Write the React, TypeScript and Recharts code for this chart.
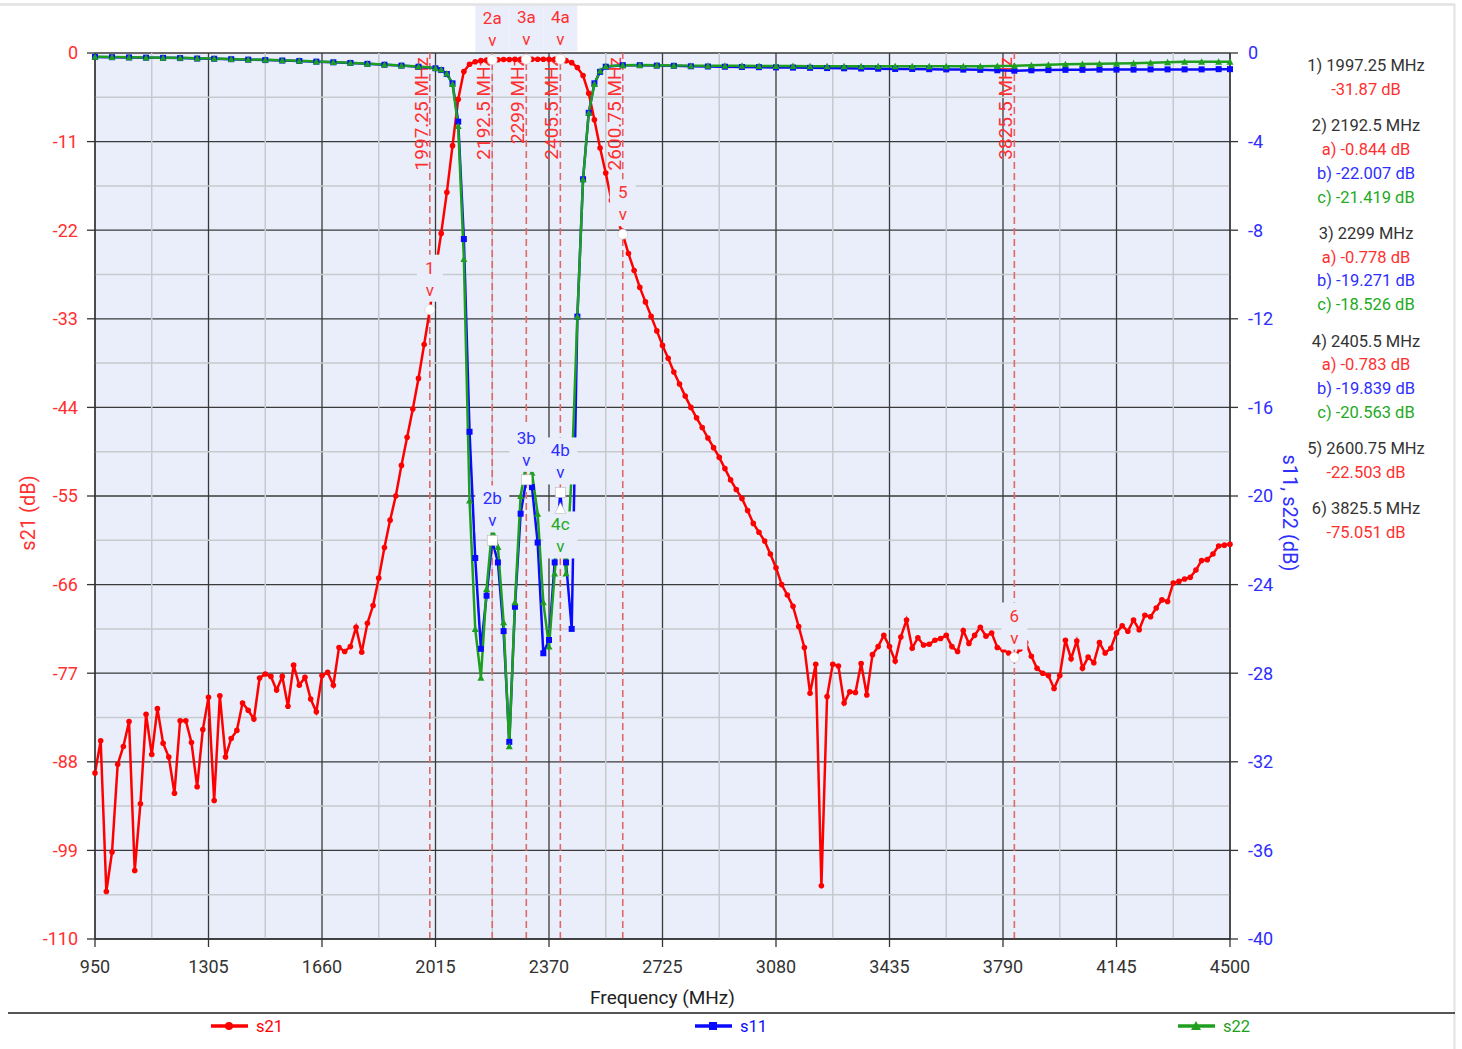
import React from "react";
import { LineChart, Line, XAxis, YAxis, CartesianGrid, ReferenceLine, ReferenceDot } from "recharts";

// sweep grid of the analyser (201 points, 950..4500 MHz)
const SWEEP_START = 950;
const SWEEP_STEP = 17.75;

const s21Db = [
  -89.4, -85.4, -104.1, -99.2, -88.3, -86.1, -83.0, -101.5, -93.2, -82.1,
  -87.1, -81.4, -85.7, -87.4, -91.9, -82.9, -82.9, -85.6, -91.1, -84.0,
  -80.0, -92.8, -79.8, -87.4, -85.1, -84.1, -80.7, -81.6, -82.7, -77.6,
  -77.1, -77.4, -79.1, -77.4, -81.1, -76.0, -78.5, -77.5, -80.2, -81.8,
  -77.3, -76.9, -78.5, -73.8, -74.3, -73.7, -71.3, -74.4, -70.8, -68.6,
  -65.2, -61.4, -58.0, -55.0, -51.2, -47.7, -44.2, -40.4, -36.2, -31.87,
  -27.0, -22.4, -17.3, -11.5, -5.75, -2.3, -1.4, -1.08, -0.95, -0.88,
  -0.844, -0.83, -0.81, -0.8, -0.79, -0.78, -0.778, -0.78, -0.78, -0.78,
  -0.78, -0.78, -0.783, -0.95, -1.2, -1.8, -2.8, -5.0, -8.3, -11.8,
  -14.9, -18.3, -20.6, -22.503, -24.9, -27.0, -29.1, -30.9, -32.7, -34.5,
  -36.3, -37.9, -39.6, -41.1, -42.6, -44.0, -45.3, -46.5, -47.8, -49.0,
  -50.2, -51.6, -53.0, -54.2, -55.3, -56.8, -58.4, -59.5, -60.6, -62.2,
  -63.9, -66.0, -67.3, -68.7, -71.2, -73.8, -79.5, -75.9, -103.4, -79.9,
  -75.9, -76.1, -80.7, -79.3, -79.4, -75.8, -79.7, -74.7, -73.7, -72.3,
  -73.7, -75.5, -72.5, -70.4, -73.9, -72.6, -73.5, -73.4, -72.9, -72.7,
  -72.3, -73.7, -74.3, -71.7, -73.3, -72.3, -71.3, -72.4, -72.0, -73.8,
  -74.1, -74.5, -75.051, -74.0, -73.2, -74.9, -76.4, -77.0, -77.3, -78.9,
  -77.3, -72.9, -75.2, -73.0, -76.4, -75.0, -75.7, -73.2, -74.5, -73.9,
  -72.0, -71.1, -71.8, -70.4, -71.6, -69.8, -70.0, -68.9, -67.9, -68.1,
  -65.8, -65.6, -65.3, -65.1, -64.2, -63.0, -62.9, -62.2, -61.2, -61.1,
  -61.0,
];
const s21Freq = s21Db.map((_, i) => SWEEP_START + SWEEP_STEP * i);

// s11 / s22 are shown on a thinner grid outside the passband
const sParamFreq = [
  950, 1003.25, 1056.5, 1109.75, 1163, 1216.25, 1269.5, 1322.75, 1376, 1429.25, 1482.5,
  1535.75, 1589, 1642.25, 1695.5, 1748.75, 1802, 1855.25, 1908.5, 1961.75, 2015,
  2032.75, 2050.5, 2068.25, 2086, 2103.75, 2121.5, 2139.25, 2157, 2174.75, 2192.5,
  2210.25, 2228, 2245.75, 2263.5, 2281.25, 2299, 2316.75, 2334.5, 2352.25, 2370,
  2387.75, 2405.5, 2423.25, 2441, 2458.75, 2476.5, 2494.25, 2512, 2529.75, 2547.5,
  2600.75, 2654, 2707.25, 2760.5, 2813.75, 2867, 2920.25, 2973.5, 3026.75, 3080,
  3133.25, 3186.5, 3239.75, 3293, 3346.25, 3399.5, 3452.75, 3506, 3559.25, 3612.5,
  3665.75, 3719, 3772.25, 3825.5, 3878.75, 3932, 3985.25, 4038.5, 4091.75, 4145,
  4198.25, 4251.5, 4304.75, 4358, 4411.25, 4464.5, 4500,
];
const s11Db = [
  -0.18, -0.19, -0.2, -0.21, -0.22, -0.23, -0.25, -0.26, -0.28, -0.3, -0.32,
  -0.34, -0.36, -0.39, -0.42, -0.45, -0.49, -0.53, -0.57, -0.62, -0.69,
  -0.77, -0.95, -1.37, -3.1, -8.4, -17.1, -22.8, -26.9, -24.5, -22.007,
  -23.0, -26.1, -31.1, -25.0, -20.8, -19.271, -19.6, -22.1, -27.1, -26.5,
  -23.0, -19.839, -23.0, -26.0, -11.9, -5.7, -2.7, -1.37, -0.85, -0.62,
  -0.55, -0.55, -0.57, -0.58, -0.6, -0.61, -0.62, -0.63, -0.64, -0.65,
  -0.66, -0.67, -0.68, -0.69, -0.7, -0.71, -0.72, -0.72, -0.73, -0.74,
  -0.75, -0.76, -0.78, -0.8, -0.78, -0.77, -0.76, -0.76, -0.75, -0.75,
  -0.75, -0.74, -0.74, -0.74, -0.74, -0.73, -0.73,
];
const s22Db = [
  -0.17, -0.18, -0.19, -0.2, -0.21, -0.22, -0.24, -0.25, -0.27, -0.29, -0.31,
  -0.33, -0.35, -0.38, -0.41, -0.44, -0.48, -0.52, -0.56, -0.61, -0.68,
  -0.75, -0.93, -1.4, -3.3, -9.3, -20.2, -26.0, -28.2, -24.2, -21.419,
  -22.3, -25.7, -31.3, -24.8, -20.0, -18.526, -18.95, -20.8, -24.8, -26.8,
  -23.5, -20.563, -23.5, -19.0, -11.9, -5.7, -2.7, -1.4, -0.8, -0.6,
  -0.55, -0.54, -0.55, -0.56, -0.57, -0.57, -0.58, -0.58, -0.59, -0.59,
  -0.59, -0.6, -0.6, -0.6, -0.6, -0.6, -0.6, -0.6, -0.6, -0.6,
  -0.6, -0.6, -0.59, -0.58, -0.55, -0.53, -0.51, -0.5, -0.48, -0.47,
  -0.46, -0.44, -0.42, -0.4, -0.4, -0.39, -0.39,
];

const freqTicks = [950, 1305, 1660, 2015, 2370, 2725, 3080, 3435, 3790, 4145, 4500];
const freqMinor = [1127.5, 1482.5, 1837.5, 2192.5, 2547.5, 2902.5, 3257.5, 3612.5, 3967.5, 4322.5];
const s21Ticks = [0, -11, -22, -33, -44, -55, -66, -77, -88, -99, -110];
const s21Minor = [-5.5, -16.5, -27.5, -38.5, -49.5, -60.5, -71.5, -82.5, -93.5, -104.5];
const sParamTicks = [0, -4, -8, -12, -16, -20, -24, -28, -32, -36, -40];

// markers
const markerNames = ["1", "2", "3", "4", "5", "6"];
const markerFreq = [1997.25, 2192.5, 2299, 2405.5, 2600.75, 3825.5];
const markerS21 = [-31.87, -0.844, -0.778, -0.783, -22.503, -75.051];
const markerS11 = [null, -22.007, -19.271, -19.839, null, null];
const markerS22 = [null, -21.419, -18.526, -20.563, null, null];

const FONT = "Roboto, 'Liberation Sans', Arial, sans-serif";
const PLOT_BG = "#e9eefa";
const RED = "#ff0000";
const BLUE = "#0a0aff";
const GREEN = "#1f9f1f";
const RED_TXT = "#ff3030";
const BLUE_TXT = "#2e2eff";
const GREEN_TXT = "#22aa22";
const C_LABELS = ["4"]; // the other c-markers sit under the b-markers

const squareDot = (color: string, name: string) => (p: any) => (
  <rect key={`${name}-${p.index}`} x={p.cx - 3} y={p.cy - 3} width={6} height={6} fill={color} />
);
const triangleDot = (color: string, name: string) => (p: any) => (
  <path key={`${name}-${p.index}`} d={`M${p.cx},${p.cy - 3.5}L${p.cx + 3.5},${p.cy + 3}L${p.cx - 3.5},${p.cy + 3}Z`} fill={color} />
);

const freqLabel = (text: string) => (props: any) => {
  const vb = props.viewBox || {};
  const x = vb.x - 2;
  const y = vb.y + 4;
  return (
    <text x={x} y={y} transform={`rotate(-90 ${x} ${y})`} textAnchor="end" fill={RED_TXT} fontSize={19} fontFamily={FONT}>
      {text}
    </text>
  );
};

const markerShape = (text: string, color: string, symbol: string, below: boolean) => (p: any) => {
  const { cx, cy } = p;
  const w = text.length > 1 ? 34 : 26;
  const boxY = below ? cy + 3 : cy - 55;
  const t1 = below ? cy + 22 : cy - 36;
  const t2 = below ? cy + 44 : cy - 14;
  let sym;
  if (symbol === "circle") sym = <circle cx={cx} cy={cy} r={5} fill="#fff" stroke="#c8c8c8" strokeWidth={0.6} />;
  else if (symbol === "square") sym = <rect x={cx - 5} y={cy - 5} width={10} height={10} fill="#fff" stroke="#b8b8b8" strokeWidth={0.6} />;
  else sym = <path d={`M${cx},${cy - 6}L${cx + 5.5},${cy + 5}L${cx - 5.5},${cy + 5}Z`} fill="#fff" stroke="#b8b8b8" strokeWidth={0.6} />;
  return (
    <g>
      <rect x={cx - w / 2} y={boxY} width={w} height={47} fill={PLOT_BG} />
      <text x={cx} y={t1} textAnchor="middle" fill={color} fontSize={17} fontFamily={FONT}>{text}</text>
      <text x={cx} y={t2} textAnchor="middle" fill={color} fontSize={17} fontFamily={FONT}>v</text>
      {sym}
    </g>
  );
};

export default function App() {
  const s21Data = s21Freq.map((f, i) => ({ freq: f, db: s21Db[i] }));
  const s11Data = sParamFreq.map((f, i) => ({ freq: f, db: s11Db[i] }));
  const s22Data = sParamFreq.map((f, i) => ({ freq: f, db: s22Db[i] }));

  // right hand readout lines
  const readout: { text: string; color: string; gap: boolean }[] = [];
  markerNames.forEach((n, i) => {
    readout.push({ text: `${n}) ${markerFreq[i]} MHz`, color: "#333", gap: i > 0 });
    if (markerS11[i] == null) {
      readout.push({ text: `${markerS21[i]} dB`, color: RED_TXT, gap: false });
    } else {
      readout.push({ text: `a) ${markerS21[i]} dB`, color: RED_TXT, gap: false });
      readout.push({ text: `b) ${markerS11[i]} dB`, color: BLUE_TXT, gap: false });
      readout.push({ text: `c) ${markerS22[i]} dB`, color: GREEN_TXT, gap: false });
    }
  });
  let ry = 71;
  const readoutY = readout.map((r, i) => {
    if (i > 0) ry += r.gap ? 36.3 : 23.8;
    return ry;
  });

  const legend = [
    { name: "s21", color: RED, x: 211, sym: "circle" },
    { name: "s11", color: BLUE, x: 695, sym: "square" },
    { name: "s22", color: GREEN, x: 1178, sym: "triangle" },
  ];

  return (
    <div style={{ position: "absolute", left: 0, top: 0, width: 1462, height: 1049, background: "#fff", fontFamily: FONT }}>
      <LineChart width={1462} height={1049} margin={{ top: 53, right: 182, bottom: 40, left: 35 }}>
        <CartesianGrid yAxisId="left" stroke="#3a3a3a" strokeWidth={1.3} fill={PLOT_BG} fillOpacity={1} />
        <XAxis
          dataKey="freq"
          type="number"
          domain={[950, 4500]}
          ticks={freqTicks}
          interval={0}
          height={70}
          tickSize={8}
          tickMargin={13}
          tick={{ fill: "#333", fontSize: 18, fontFamily: FONT }}
          axisLine={{ stroke: "#333", strokeWidth: 1.3 }}
          tickLine={{ stroke: "#333", strokeWidth: 1.3 }}
          label={(props: any) => {
            const vb = props.viewBox || {};
            return (
              <text x={vb.x + vb.width / 2} y={vb.y + 65} textAnchor="middle" fill="#222" fontSize={19} fontFamily={FONT}>
                Frequency (MHz)
              </text>
            );
          }}
        />
        <YAxis
          yAxisId="left"
          domain={[-110, 0]}
          ticks={s21Ticks}
          interval={0}
          width={60}
          tickSize={8}
          tickMargin={9}
          tick={{ fill: RED_TXT, fontSize: 18, fontFamily: FONT }}
          axisLine={{ stroke: "#333", strokeWidth: 1.3 }}
          tickLine={{ stroke: "#333", strokeWidth: 1.3 }}
          label={(props: any) => {
            const vb = props.viewBox || {};
            const x = vb.x + 0;
            const y = 513;
            return (
              <text x={x} y={y} transform={`rotate(-90 ${x} ${y})`} textAnchor="middle" fill={RED_TXT} fontSize={20} fontFamily={FONT}>
                s21 (dB)
              </text>
            );
          }}
        />
        <YAxis
          yAxisId="right"
          orientation="right"
          domain={[-40, 0]}
          ticks={sParamTicks}
          interval={0}
          width={50}
          tickSize={8}
          tickMargin={10}
          tick={{ fill: BLUE_TXT, fontSize: 18, fontFamily: FONT }}
          axisLine={{ stroke: "#333", strokeWidth: 1.3 }}
          tickLine={{ stroke: "#333", strokeWidth: 1.3 }}
          label={(props: any) => {
            const vb = props.viewBox || {};
            const x = vb.x + 53;
            const y = 513;
            return (
              <text x={x} y={y} transform={`rotate(90 ${x} ${y})`} textAnchor="middle" fill={BLUE_TXT} fontSize={20} fontFamily={FONT}>
                s11, s22 (dB)
              </text>
            );
          }}
        />

        {freqMinor.map((f) => (
          <ReferenceLine key={`vx${f}`} x={f} yAxisId="left" stroke="#c8c9cd" strokeWidth={1.5} />
        ))}
        {s21Minor.map((v) => (
          <ReferenceLine key={`hy${v}`} y={v} yAxisId="left" stroke="#c8c9cd" strokeWidth={1.5} />
        ))}
        {markerFreq.map((f) => (
          <ReferenceLine
            key={`mk${f}`}
            x={f}
            yAxisId="left"
            stroke="#e06868"
            strokeWidth={1.6}
            strokeDasharray="7 4"
            label={freqLabel(`${f} MHz`)}
          />
        ))}

        <Line
          data={s21Data}
          dataKey="db"
          yAxisId="left"
          stroke={RED}
          strokeWidth={2.5}
          dot={{ r: 2.8, fill: RED, stroke: RED, strokeWidth: 0 }}
          isAnimationActive={false}
        />
        <Line
          data={s11Data}
          dataKey="db"
          yAxisId="right"
          stroke={BLUE}
          strokeWidth={2.5}
          dot={squareDot(BLUE, "s11")}
          isAnimationActive={false}
        />
        <Line
          data={s22Data}
          dataKey="db"
          yAxisId="right"
          stroke={GREEN}
          strokeWidth={2.5}
          dot={triangleDot(GREEN, "s22")}
          isAnimationActive={false}
        />

        {markerFreq.map((f, i) => (
          <ReferenceDot
            key={`a${i}`}
            x={f}
            y={markerS21[i]}
            yAxisId="left"
            shape={markerShape(markerS11[i] == null ? markerNames[i] : `${markerNames[i]}a`, RED_TXT, "circle", false)}
          />
        ))}
        {markerFreq.map((f, i) =>
          markerS11[i] == null ? null : (
            <ReferenceDot
              key={`b${i}`}
              x={f}
              y={markerS11[i] as number}
              yAxisId="right"
              shape={markerShape(`${markerNames[i]}b`, BLUE_TXT, "square", false)}
            />
          )
        )}
        {markerFreq.map((f, i) =>
          markerS22[i] == null || !C_LABELS.includes(markerNames[i]) ? null : (
            <ReferenceDot
              key={`c${i}`}
              x={f}
              y={markerS22[i] as number}
              yAxisId="right"
              shape={markerShape(`${markerNames[i]}c`, GREEN_TXT, "triangle", true)}
            />
          )
        )}
      </LineChart>

      <svg width={1462} height={1049} style={{ position: "absolute", left: 0, top: 0, pointerEvents: "none" }}>
        <line x1={0} y1={4.5} x2={1455} y2={4.5} stroke="#e2e2e2" strokeWidth={2.5} />
        <line x1={1454.5} y1={4} x2={1454.5} y2={1049} stroke="#e2e2e2" strokeWidth={2} />
        <line x1={8} y1={1013} x2={1455} y2={1013} stroke="#555" strokeWidth={2} />
        {readout.map((r, i) => (
          <text key={i} x={1366} y={readoutY[i]} textAnchor="middle" fill={r.color} fontSize={16.5} fontFamily={FONT}>
            {r.text}
          </text>
        ))}
        {legend.map((l) => (
          <g key={l.name}>
            <line x1={l.x} y1={1026} x2={l.x + 37} y2={1026} stroke={l.color} strokeWidth={3.5} />
            {l.sym === "circle" && <circle cx={l.x + 18} cy={1026} r={4} fill={l.color} />}
            {l.sym === "square" && <rect x={l.x + 14} y={1022} width={8} height={8} fill={l.color} />}
            {l.sym === "triangle" && <path d={`M${l.x + 18},${1021}L${l.x + 23},${1030}L${l.x + 13},${1030}Z`} fill={l.color} />}
            <text x={l.x + 45} y={1032} fill={l.color} fontSize={16.5} fontFamily={FONT}>{l.name}</text>
          </g>
        ))}
      </svg>
    </div>
  );
}
